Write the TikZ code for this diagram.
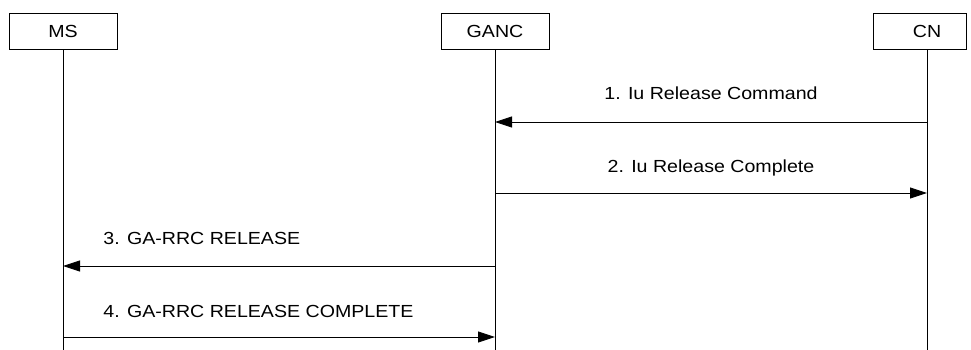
\documentclass[tikz,border=0pt]{standalone}
\usepackage{fontspec}
\setmainfont{Liberation Sans}[FakeStretch=1.12]
\usetikzlibrary{arrows.meta, positioning}

\begin{document}
\begin{tikzpicture}[x=1pt, y=-1pt, line width=0.9pt, >={Triangle[length=17pt, width=11pt]},
  entity/.style={draw, minimum width=108pt, minimum height=36pt, inner sep=0pt,
                 font=\fontsize{17.5}{20}\selectfont},
  msg/.style={inner sep=0pt, font=\fontsize{17.5}{20}\selectfont}]
  \useasboundingbox (0,0) rectangle (971,350);
  \node[entity] (ms) at (63,31) {MS};
  \node[entity] (ganc) at (495,31) {GANC};
  \node[entity, minimum width=93pt, label={[msg, xshift=7.5pt]center:CN}] (cn) at (919.5,31) {};

  \coordinate (msend) at (63,350);
  \coordinate (gancend) at (495,350);
  \coordinate (cnend) at (927,350);
  \draw (ms) -- (msend);
  \draw (ganc) -- (gancend);
  \draw (cn.south -| cnend) -- (cnend);

  \draw[->] (cnend |- 0,122) -- node[msg, anchor=base, yshift=22pt] {1. Iu Release Command} (gancend |- 0,122);
  \draw[->] (gancend |- 0,193) -- node[msg, anchor=base, yshift=21pt] {2. Iu Release Complete} (cnend |- 0,193);
  \draw[->] (gancend |- 0,266) -- node[msg, at end, anchor=base west, xshift=40pt, yshift=22pt] {3. GA-RRC RELEASE} (msend |- 0,266);
  \draw[->] (msend |- 0,337) -- node[msg, at start, anchor=base west, xshift=40pt, yshift=20pt] {4. GA-RRC RELEASE COMPLETE} (gancend |- 0,337);
\end{tikzpicture}
\end{document}
